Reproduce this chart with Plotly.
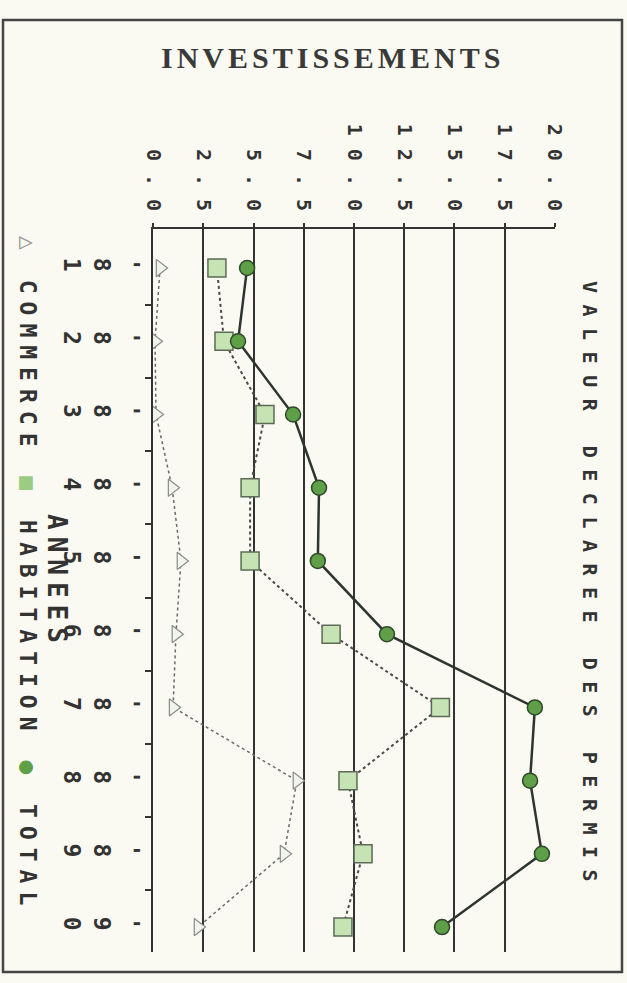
import plotly.graph_objects as go

# ---------------- data ----------------
years = [1981, 1982, 1983, 1984, 1985, 1986, 1987, 1988, 1989, 1990]
year_labels = ["81", "82", "83", "84", "85", "86", "87", "88", "89", "90"]
commerce = [0.35, 0.1, 0.15, 0.95, 1.39, 1.14, 1.0, 7.16, 6.52, 2.24]
habitation = [3.18, 3.53, 5.57, 4.83, 4.83, 8.86, 14.3, 9.7, 10.45, 9.45]
total = [4.68, 4.23, 6.97, 8.26, 8.2, 11.64, 19.0, 18.76, 19.35, 14.38]
value_ticks = [0, 2.5, 5, 7.5, 10, 12.5, 15, 17.5, 20]
value_tick_labels = ["0.0", "2.5", "5.0", "7.5", "10.0", "12.5", "15.0", "17.5", "20.0"]
series_names = ["COMMERCE", "HABITATION", "TOTAL"]
title_text = "INVESTISSEMENTS"
axis_title = "VALEUR DECLAREE DES PERMIS"
years_title = "ANNEES"

# ---------------- layout geometry ----------------
W, H = 627, 983
L, R, T, B = 153, 72, 229, 31
PW, PH = W - L - R, H - T - B
INK = "#333333"
PAPER = "#fafaf2"
MONO = "DejaVu Sans Mono"


def px(x):
    return (x - L) / PW


def py(y):
    return (H - B - y) / PH


fig = go.Figure()

fig.add_trace(go.Scatter(
    x=commerce, y=years, name=series_names[0], mode="lines+markers",
    line=dict(color="#6a6a6a", width=1.5, dash="dot"),
    marker=dict(symbol="triangle-right", size=15, color="#f1f4ea",
                line=dict(color="#8a8a8a", width=1.2)),
))
fig.add_trace(go.Scatter(
    x=habitation, y=years, name=series_names[1], mode="lines+markers",
    line=dict(color="#4a4a4a", width=2, dash="dot"),
    marker=dict(symbol="square", size=18, color="#c6e3b4",
                line=dict(color="#5b6b55", width=1.5)),
))
fig.add_trace(go.Scatter(
    x=total, y=years, name=series_names[2], mode="lines+markers",
    line=dict(color="#2e352e", width=2.5),
    marker=dict(symbol="circle", size=15, color="#5f9f47",
                line=dict(color="#2f4a2a", width=1.5)),
))

spaced = "<span style='letter-spacing:13px'>{}</span>"
fig.update_xaxes(
    side="top", range=[-0.001, 20.001],
    tickmode="array", tickvals=value_ticks,
    ticktext=[spaced.format(t) for t in value_tick_labels],
    tickangle=90, tickfont=dict(family=MONO, size=20, color=INK, weight="bold"),
    ticklabelstandoff=-8,
    showgrid=True, gridcolor=INK, gridwidth=2,
    showline=True, linecolor=INK, linewidth=2,
    ticks="outside", ticklen=4, tickwidth=2, tickcolor=INK,
    zeroline=False,
)
fig.update_yaxes(
    range=[1990.34, 1980.467],
    tickmode="array", tickvals=years,
    ticktext=["'<br>" + s[0] + "<br>" + s[1] for s in year_labels],
    tickangle=90, tickfont=dict(family=MONO, size=23, color=INK, weight="bold"),
    ticks="", showgrid=False, zeroline=False,
    showline=True, linecolor=INK, linewidth=2,
    minor=dict(tickmode="array", tickvals=[y + 0.5 for y in years[:-1]],
               ticks="outside", ticklen=6, tickwidth=2, tickcolor=INK,
               showgrid=False),
)

legend_txt = (
    "<span style='color:#9a9a9a'>△</span> COMMERCE "
    "<span style='color:#9ccc84'>■</span> HABITATION "
    "<span style='color:#5f9f47'>●</span> TOTAL"
)

fig.update_layout(
    width=W, height=H, showlegend=False,
    margin=dict(l=L, r=R, t=T, b=B),
    paper_bgcolor=PAPER, plot_bgcolor=PAPER,
    font=dict(family=MONO, color=INK),
    shapes=[dict(type="rect", xref="paper", yref="paper",
                 x0=px(3), x1=px(622), y0=py(972), y1=py(20),
                 line=dict(color="#444444", width=2.5))],
    annotations=[
        dict(text="<span style='letter-spacing:4px'>" + title_text + "</span>",
             xref="paper", yref="paper", x=px(332), y=py(58),
             xanchor="center", yanchor="middle", showarrow=False,
             font=dict(family="Liberation Serif", size=30, color="#3a3a3a", weight="bold")),
        dict(text="<span style='letter-spacing:11.5px'>" + axis_title + "</span>",
             xref="paper", yref="paper", x=px(590), y=py(587), textangle=90,
             xanchor="center", yanchor="middle", showarrow=False,
             font=dict(family=MONO, size=20, color=INK, weight="bold")),
        dict(text="<span style='letter-spacing:7px'>" + years_title + "</span>",
             xref="paper", yref="paper", x=px(57), y=py(582), textangle=90,
             xanchor="center", yanchor="middle", showarrow=False,
             font=dict(family=MONO, size=26, color=INK, weight="bold")),
        dict(text="<span style='letter-spacing:8px'>" + legend_txt + "</span>",
             xref="paper", yref="paper", x=px(28), y=py(574), textangle=90,
             xanchor="center", yanchor="middle", showarrow=False,
             font=dict(family=MONO, size=23, color=INK, weight="bold")),
    ],
)

fig.write_html("out.html", config={"displayModeBar": False},
               post_script="document.body.style.margin='0';")
